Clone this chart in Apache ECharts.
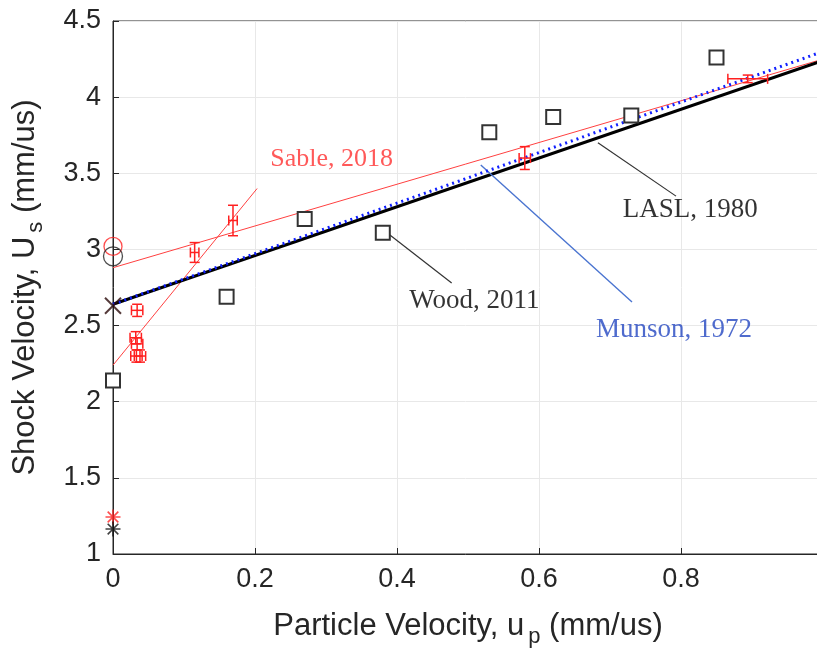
<!DOCTYPE html>
<html><head><meta charset="utf-8">
<script src="https://cdn.jsdelivr.net/npm/echarts@6/dist/echarts.min.js"></script>
<style>html,body{margin:0;padding:0;background:#fff}#c{width:817px;height:650px}</style>
</head><body><div id="c"></div>
<script>
// ---- data ----
const woodSquares = [[0,2.14],[0.16,2.69],[0.27,3.20],[0.38,3.11],[0.53,3.77],[0.62,3.87],[0.73,3.88],[0.85,4.26]];
const laslLine = [[0,2.64],[1,4.24]];
const munsonLine = [[0,2.64],[1,4.30]];
const sableFitUpper = [[0,2.88],[1,4.25]];
const sableFitSteep = [[0,2.24],[0.203,3.40]];
// [up, Us, up error, Us error]
const sableErr = [
  [0.034,2.60,0.008,0.04],[0.032,2.42,0.008,0.04],[0.034,2.38,0.008,0.04],
  [0.033,2.30,0.008,0.04],[0.038,2.30,0.008,0.04],
  [0.115,2.98,0.006,0.065],[0.169,3.19,0.006,0.10],
  [0.58,3.60,0.008,0.075],[0.894,4.12,0.028,0.025]
];
const redCircle = [[0,3.02]];
const blackCircle = [[0,2.955]];
const blackCross = [[0,2.63]];
const redStar = [[0,1.243]];
const blackStar = [[0,1.164]];
const woodPointer = [[0.39,3.095],[0.477,2.78]];
const laslPointer = [[0.683,3.70],[0.793,3.35]];
const munsonPointer = [[0.518,3.554],[0.731,2.655]];
const annotations = [
  {name:'Sable, 2018', value:[0.308,3.59], color:'#ff3030', size:26},
  {name:'Wood, 2011', value:[0.509,2.66], color:'#000000', size:27},
  {name:'LASL, 1980', value:[0.813,3.26], color:'#000000', size:27},
  {name:'Munson, 1972', value:[0.79,2.47], color:'#2346c0', size:27}
];
const xTicks = {min:0,max:1,interval:0.2};
const yTicks = {min:1,max:4.5,interval:0.5};

const AX = '#262626';
const chart = echarts.init(document.getElementById('c'));
const star = 'path://M0,-10L0,10M-10,0L10,0M-7.1,-7.1L7.1,7.1M-7.1,7.1L7.1,-7.1';
const cross = 'path://M-10,-10L10,10M-10,10L10,-10';

function errItem(params, api){
  const x=api.value(0), y=api.value(1), ex=api.value(2), ey=api.value(3);
  const top=api.coord([x,y+ey]), bot=api.coord([x,y-ey]);
  const l=api.coord([x-ex,y]), r=api.coord([x+ex,y]);
  const cap=5;
  const st={stroke:'#ff2020',lineWidth:1.5,fill:null};
  return {type:'group',children:[
    {type:'line',shape:{x1:top[0],y1:top[1],x2:bot[0],y2:bot[1]},style:st},
    {type:'line',shape:{x1:top[0]-cap,y1:top[1],x2:top[0]+cap,y2:top[1]},style:st},
    {type:'line',shape:{x1:bot[0]-cap,y1:bot[1],x2:bot[0]+cap,y2:bot[1]},style:st},
    {type:'line',shape:{x1:l[0],y1:l[1],x2:r[0],y2:r[1]},style:st},
    {type:'line',shape:{x1:l[0],y1:l[1]-cap,x2:l[0],y2:l[1]+cap},style:st},
    {type:'line',shape:{x1:r[0],y1:r[1]-cap,x2:r[0],y2:r[1]+cap},style:st}
  ]};
}
function lineSeries(data,color,width,type,z){
  return {type:'line',data:data,symbol:'none',silent:true,z:z||2,animation:false,
    lineStyle:{color:color,width:width,type:type||'solid'}};
}
chart.setOption({
  animation:false,
  grid:{left:113,right:-6,top:21,bottom:96,show:true,borderColor:AX,borderWidth:1,
    containLabel:false,outerBoundsMode:'none'},
  xAxis:{type:'value',min:xTicks.min,max:xTicks.max,interval:xTicks.interval,
    name:'Particle Velocity, u{sub|p} (mm/us)',nameLocation:'middle',nameGap:50,
    nameTextStyle:{color:AX,fontSize:31,fontFamily:'Liberation Sans',
      rich:{sub:{fontSize:22,fontFamily:'Liberation Sans',color:AX,padding:[22,0,0,4]}}},
    axisLine:{lineStyle:{color:AX}},axisTick:{inside:true,length:6,lineStyle:{color:AX}},
    axisLabel:{color:AX,fontSize:27,fontFamily:'Liberation Sans',margin:12},
    splitLine:{show:true,lineStyle:{color:'#e8e8e8'}}},
  yAxis:{type:'value',min:yTicks.min,max:yTicks.max,interval:yTicks.interval,
    name:'Shock Velocity, U{sub|s} (mm/us)',nameLocation:'middle',nameGap:66,
    nameTextStyle:{color:AX,fontSize:31,fontFamily:'Liberation Sans',
      rich:{sub:{fontSize:22,fontFamily:'Liberation Sans',color:AX,padding:[22,0,0,4]}}},
    axisLine:{lineStyle:{color:AX}},axisTick:{inside:true,length:6,lineStyle:{color:AX}},
    axisLabel:{color:AX,fontSize:27,fontFamily:'Liberation Sans',margin:12},
    splitLine:{show:true,lineStyle:{color:'#e8e8e8'}}},
  series:[
    lineSeries(sableFitUpper,'#ff4040',1,'solid',2),
    lineSeries(sableFitSteep,'#ff4040',1,'solid',2),
    lineSeries(laslLine,'#000000',3,'solid',3),
    lineSeries(munsonLine,'#1020ff',3,[2,4],4),
    lineSeries(woodPointer,'#333333',1.2,'solid',3),
    lineSeries(laslPointer,'#333333',1.2,'solid',3),
    lineSeries(munsonPointer,'#4a74d0',1.4,'solid',3),
    {type:'custom',renderItem:errItem,data:sableErr,z:5,silent:true},
    {type:'scatter',data:woodSquares,symbol:'rect',symbolSize:14,z:6,
      itemStyle:{color:'#fff',opacity:1,borderColor:'#333',borderWidth:2}},
    {type:'scatter',data:redCircle,symbol:'circle',symbolSize:18,z:6,
      itemStyle:{color:'none',borderColor:'#ff2020',borderWidth:1.3}},
    {type:'scatter',data:blackCircle,symbol:'circle',symbolSize:19,z:6,
      itemStyle:{color:'none',borderColor:'#222',borderWidth:1.3}},
    {type:'scatter',data:blackCross,symbol:cross,symbolSize:16,z:7,
      itemStyle:{color:'none',borderColor:'#2a0a0a',borderWidth:2}},
    {type:'scatter',data:redStar,symbol:star,symbolSize:15,z:7,
      itemStyle:{color:'none',borderColor:'#ff2020',borderWidth:1.6}},
    {type:'scatter',data:blackStar,symbol:star,symbolSize:15,z:7,
      itemStyle:{color:'none',borderColor:'#111',borderWidth:1.6}},
    {type:'scatter',symbolSize:0,z:8,silent:true,
      data:annotations.map(a=>({name:a.name,value:a.value,
        label:{show:true,position:'inside',formatter:'{b}',color:a.color,
          fontFamily:'Liberation Serif',fontSize:a.size}}))}
  ]
});
</script></body></html>
